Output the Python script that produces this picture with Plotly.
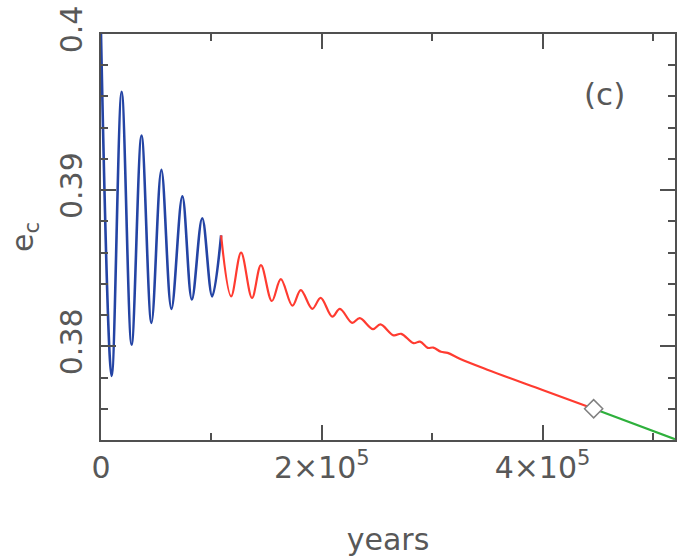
import plotly.graph_objects as go

# Blue segment (extrema of the oscillation)
blue_x = [0, 9650, 18700, 27700, 36700, 45700, 54700, 63800, 73700, 82300, 91700, 100700, 108800]
blue_y = [0.4000, 0.3781, 0.3963, 0.3801, 0.3935, 0.3815, 0.3913, 0.3824, 0.3896, 0.3830, 0.3882, 0.3832, 0.3871]

# Red segment
red_x = [108800, 117900, 126900, 136800, 144900, 154800, 162900, 173400, 181000, 191400, 199000,
         209500, 216400, 227500, 234400, 246400, 253100, 265100, 272000, 283100, 289000,
         296000, 301000, 308000, 314000, 325000, 350000, 400000, 446300]
red_y = [0.3871, 0.3832, 0.3860, 0.3831, 0.3852, 0.3829, 0.3843, 0.3826, 0.3836, 0.3824, 0.3831,
         0.3819, 0.3824, 0.3815, 0.3818, 0.3811, 0.3814, 0.3807, 0.3808, 0.3802, 0.3803,
         0.3799, 0.37992, 0.37965, 0.37958, 0.3792, 0.3785, 0.3772, 0.3760]

# Green segment
green_x = [446300, 520000]
green_y = [0.3760, 0.37405]

# Marker
marker_x = [446300]
marker_y = [0.3760]

x_range = [0, 520000]
y_range = [0.374, 0.400]

FONT = "DejaVu Sans"
TXT = "#585858"
AX = "#505050"

fig = go.Figure()
fig.add_trace(go.Scatter(x=blue_x, y=blue_y, mode="lines", line=dict(color="#2444a4", width=2.6, shape="spline"),
                         showlegend=False))
fig.add_trace(go.Scatter(x=red_x, y=red_y, mode="lines", line=dict(color="#ff3b30", width=2.2, shape="spline"),
                         showlegend=False))
fig.add_trace(go.Scatter(x=green_x, y=green_y, mode="lines", line=dict(color="#2eb03c", width=2.2),
                         showlegend=False))
fig.add_trace(go.Scatter(x=marker_x, y=marker_y, mode="markers",
                         marker=dict(symbol="diamond", size=14, color="white", line=dict(color="#808080", width=1.5)),
                         showlegend=False))

fig.update_layout(
    width=679, height=560,
    margin=dict(l=101, r=2, t=34, b=120),
    plot_bgcolor="white", paper_bgcolor="white",
    font=dict(family=FONT, size=30, color=TXT),
    xaxis=dict(range=x_range, dtick=200000, tick0=0, exponentformat="power", showexponent="all",
               ticks="inside", ticklen=15, tickwidth=2, tickcolor=AX,
               showline=True, linecolor=AX, linewidth=2, mirror="ticks",
               showgrid=False, zeroline=False,
               minor=dict(dtick=100000, tick0=0, ticks="inside", ticklen=7, tickwidth=2, tickcolor=AX),
               tickfont=dict(size=30, color=TXT),
               title=dict(text="years", standoff=45, font=dict(size=30, color=TXT))),
    yaxis=dict(range=y_range, dtick=0.01, tick0=0, tickangle=-90, ticklabelstandoff=5,
               ticks="inside", ticklen=15, tickwidth=2, tickcolor=AX,
               showline=True, linecolor=AX, linewidth=2, mirror="ticks",
               showgrid=False, zeroline=False,
               minor=dict(dtick=0.002, tick0=0, ticks="inside", ticklen=7, tickwidth=2, tickcolor=AX),
               tickfont=dict(size=30, color=TXT),
               title=dict(text="e<sub>c</sub>", standoff=12, font=dict(size=30, color=TXT))),
    annotations=[dict(text="(c)", xref="paper", yref="paper", x=0.878, y=0.852,
                      xanchor="center", yanchor="middle",
                      showarrow=False, font=dict(size=31, color=TXT))],
)

fig.write_html("out.html")
